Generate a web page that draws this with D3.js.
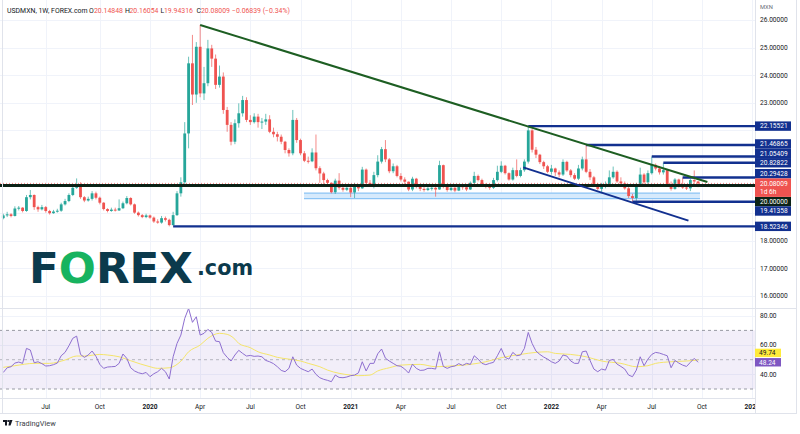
<!DOCTYPE html>
<html lang="en">
<head>
<meta charset="utf-8">
<script src="https://cdn.jsdelivr.net/npm/d3@7"></script>
<style>
  body { margin: 0; background: #fff; }
  svg { display: block; font-family: Roboto, "Liberation Sans", sans-serif; }
</style>
</head>
<body>
<div id="chart"></div>
<script>
  // ---- data (weekly USDMXN) ----
  const firstWeek = Date.UTC(2019, 3, 15); // Monday of first bar
  const firstOpen = 18.82;

  const closes = [
    18.92, 18.96, 18.90, 19.17, 19.20, 19.08, 19.58, 19.66, 19.22, 19.14,
    19.22, 19.08, 19.00, 19.06, 19.09, 19.32, 19.44, 19.66, 19.92, 20.05,
    19.58, 19.46, 19.52, 19.72, 19.56, 19.38, 19.15, 19.08, 19.13, 19.10,
    19.18, 19.36, 19.55, 19.32, 19.02, 18.93, 18.86, 18.92, 18.84, 18.70,
    18.66, 18.82, 18.76, 18.57, 18.93, 19.72, 20.12, 21.89, 24.43, 23.30,
    25.03, 23.34, 23.71, 24.97, 24.60, 23.65, 23.95, 22.74, 22.20, 21.59,
    22.26, 22.62, 23.10, 22.38, 22.30, 22.50, 22.30, 22.32, 22.40, 21.95,
    21.86, 21.77, 21.59, 21.29, 21.17, 22.38, 21.65, 21.17, 20.90, 20.88,
    21.20, 20.63, 20.44, 20.20, 20.10, 19.76, 20.18, 19.92, 19.85, 19.92,
    19.75, 19.98, 19.90, 20.58, 20.10, 20.00, 20.38, 20.87, 21.32, 20.95,
    20.52, 20.70, 20.35, 20.22, 20.14, 19.86, 20.25, 19.95, 19.88, 19.84,
    19.90, 19.92, 19.86, 20.74, 19.95, 19.84, 19.92, 19.82, 19.98, 19.94,
    19.86, 20.10, 20.35, 20.20, 20.04, 19.96, 19.92, 20.20, 20.50, 20.72,
    20.45, 20.22, 20.56, 20.35, 20.56, 20.87, 22.00, 21.30, 21.12, 20.85,
    20.70, 20.50, 20.62, 20.48, 20.40, 20.86, 20.55, 20.38, 20.25, 20.62,
    20.95, 20.50, 20.30, 20.05, 19.88, 19.95, 20.05, 20.30, 20.50, 20.15,
    20.08, 19.90, 19.62, 19.55, 20.02, 20.40, 20.12, 20.45, 20.75, 20.62,
    20.48, 20.56, 20.05, 19.88, 20.22, 19.98, 19.93, 19.90, 20.20, 20.14848,
    20.08009
  ];
  const highs = [
    18.98, 19.05, 19.00, 19.25, 19.26, 19.22, 19.66, 19.84, 19.68, 19.27,
    19.30, 19.26, 19.12, 19.12, 19.16, 19.38, 19.52, 19.72, 19.98, 20.26,
    20.12, 19.62, 19.60, 19.80, 19.78, 19.60, 19.40, 19.18, 19.20, 19.20,
    19.50, 19.42, 19.62, 19.58, 19.35, 19.06, 18.97, 18.98, 18.95, 18.88,
    18.78, 18.90, 18.88, 18.80, 19.05, 19.80, 20.30, 22.30, 24.67, 25.46,
    25.20, 25.82, 24.30, 25.28, 25.10, 24.75, 24.35, 24.10, 22.85, 22.30,
    22.40, 22.98, 23.25, 23.20, 22.55, 22.62, 22.60, 22.45, 22.60, 22.55,
    22.10, 21.95, 21.85, 21.62, 21.35, 22.74, 22.45, 21.70, 21.25, 21.05,
    21.35, 21.85, 20.70, 20.50, 20.25, 20.12, 20.25, 20.45, 20.05, 20.05,
    20.00, 20.10, 20.05, 20.68, 20.62, 20.20, 20.50, 21.10, 21.40, 21.65,
    21.00, 20.80, 20.75, 20.45, 20.30, 20.15, 20.32, 20.28, 20.00, 19.95,
    19.98, 20.05, 20.00, 20.90, 20.76, 20.02, 20.00, 19.95, 20.05, 20.05,
    20.00, 20.15, 20.50, 20.40, 20.25, 20.08, 20.02, 20.28, 20.72, 20.88,
    20.75, 20.48, 20.65, 20.95, 20.65, 20.95, 22.15521, 22.05, 21.40, 21.15,
    20.90, 20.75, 20.75, 20.65, 20.55, 20.95, 20.90, 20.60, 20.45, 20.75,
    21.05, 21.46865, 20.60, 20.35, 20.10, 20.10, 20.15, 20.55, 20.69, 20.55,
    20.30, 20.15, 19.95, 19.70, 20.10, 20.65, 20.45, 20.55, 21.05409, 20.80,
    20.70, 20.82822, 20.60, 20.15, 20.27, 20.25, 20.29428, 20.02, 20.25, 20.55,
    20.16054
  ];
  const lows = [
    18.78, 18.86, 18.85, 18.88, 19.10, 19.03, 19.05, 19.50, 19.12, 19.05,
    19.10, 19.02, 18.95, 18.98, 19.02, 19.05, 19.28, 19.40, 19.62, 19.88,
    19.52, 19.40, 19.42, 19.46, 19.50, 19.32, 19.10, 19.03, 19.05, 19.06,
    19.08, 19.15, 19.32, 19.28, 18.98, 18.88, 18.82, 18.82, 18.80, 18.65,
    18.62, 18.62, 18.70, 18.52346, 18.55, 18.90, 19.60, 20.05, 21.35, 22.92,
    23.00, 23.20, 23.10, 23.60, 24.30, 23.50, 23.55, 22.60, 21.95, 21.46,
    21.50, 22.10, 22.50, 22.30, 22.20, 22.25, 22.10, 22.05, 22.20, 21.90,
    21.75, 21.60, 21.50, 21.17, 21.05, 21.10, 21.55, 21.10, 20.85, 20.80,
    20.85, 20.55, 20.10, 20.05, 19.98, 19.72, 19.70, 19.85, 19.78, 19.80,
    19.58, 19.55, 19.80, 19.88, 20.02, 19.95, 19.90, 20.30, 20.80, 20.85,
    20.45, 20.45, 20.30, 20.15, 20.05, 19.80, 19.80, 19.90, 19.80, 19.78,
    19.80, 19.82, 19.60, 19.85, 19.90, 19.78, 19.80, 19.76, 19.80, 19.85,
    19.80, 19.84, 20.05, 20.15, 19.98, 19.90, 19.85, 19.88, 20.15, 20.45,
    20.40, 20.18, 20.18, 20.30, 20.30, 20.50, 20.80, 21.20, 21.00, 20.78,
    20.60, 20.45, 20.40, 20.35, 20.30, 20.35, 20.50, 20.30, 20.20, 20.20,
    20.55, 20.45, 20.20, 19.95, 19.83, 19.73, 19.90, 19.95, 20.25, 20.10,
    19.98, 19.85, 19.55, 19.41358, 19.45, 19.95, 19.95, 20.05, 20.40, 20.55,
    20.40, 20.40, 20.00, 19.82, 19.85, 19.93, 19.88, 19.84, 19.80, 20.05,
    19.94316
  ];

  const rsiValues = [
    41.3, 44.5, 45.2, 47.7, 48.4, 47.5, 57.7, 56.6, 47.9, 48.6,
    47.3, 45.7, 45.9, 46.6, 47.7, 52.7, 55.0, 59.5, 64.6, 66.1,
    53.6, 51.6, 53.2, 55.9, 52.3, 46.8, 44.1, 45.0, 45.2, 45.4,
    47.5, 53.9, 50.9, 44.5, 42.3, 41.1, 40.4, 41.3, 38.4, 40.4,
    41.8, 44.1, 41.8, 36.8, 52.0, 61.1, 66.8, 78.2, 85.0, 75.5,
    79.3, 66.8, 68.0, 70.7, 68.6, 62.7, 62.3, 54.8, 51.6, 49.1,
    53.2, 56.4, 54.3, 52.5, 52.9, 52.3, 52.5, 52.0, 49.5, 48.6,
    47.3, 45.2, 42.7, 41.8, 44.1, 52.0, 46.3, 44.1, 42.9, 41.8,
    43.6, 40.0, 37.7, 36.6, 35.9, 35.0, 39.5, 37.9, 37.7, 38.2,
    39.1, 39.5, 41.0, 48.6, 42.3, 47.5, 47.5, 54.0, 57.3, 51.0,
    49.1, 47.5, 45.9, 45.5, 43.6, 40.9, 47.0, 44.1, 42.7, 42.9,
    44.1, 44.1, 43.6, 55.4, 45.4, 44.1, 45.2, 45.7, 47.3, 46.1,
    47.5, 46.8, 52.7, 50.4, 47.5, 46.6, 47.5, 48.2, 52.7, 57.7,
    51.6, 50.4, 55.0, 52.7, 53.2, 57.7, 68.6, 61.1, 55.9, 53.6,
    51.8, 50.4, 48.6, 47.5, 49.1, 53.2, 52.5, 49.1, 47.5, 47.5,
    55.4, 55.9, 49.5, 43.6, 41.8, 43.6, 42.9, 49.5, 50.2, 47.0,
    45.4, 43.6, 39.5, 38.4, 42.9, 52.0, 45.9, 50.4, 53.6, 55.0,
    54.5, 53.6, 52.7, 44.5, 49.5, 47.7, 46.3, 45.4, 48.2, 50.9,
    48.24
  ];

  // RSI moving average, read at sampled weeks
  const rsiMaWeeks = [0, 3, 8, 12, 16, 19, 21, 25, 27, 30, 33, 38, 40, 43, 46, 48, 51, 53, 56, 58,
    60, 61, 64, 66, 69, 71, 74, 77, 79, 82, 84, 87, 90, 92, 95, 97, 100, 103, 108, 112,
    117, 121, 125, 129, 134, 138, 141, 143, 147, 151, 155, 160, 164, 167, 169, 173, 177, 180];
  const rsiMaValues = [44.8, 45.9, 47.5, 47.5, 49.8, 52.5, 52.5, 53.6, 53.2, 52.0, 49.3, 45.2, 44.1, 44.5, 49.0, 55.4, 60.0, 64.6, 68.0, 67.3,
    64.0, 61.1, 58.2, 55.4, 53.2, 51.6, 50.4, 49.1, 47.5, 45.2, 42.9, 40.7, 39.5, 39.1, 39.5, 42.3, 44.5, 46.3, 46.8, 45.2,
    45.9, 46.8, 48.6, 51.4, 53.6, 55.0, 55.4, 54.3, 53.6, 52.0, 49.1, 47.5, 45.2, 45.9, 47.5, 48.6, 49.1, 49.74];

  const priceTicks = [16, 17, 18, 19, 20, 21, 22, 23, 24, 25, 26];
  const rsiTicks = [80, 60, 40];
  const timeTickDates = ["2019-07-01", "2019-10-07", "2020-01-06", "2020-04-06", "2020-07-06", "2020-10-05",
    "2021-01-04", "2021-04-05", "2021-07-05", "2021-10-04", "2022-01-03", "2022-04-04", "2022-07-04",
    "2022-10-03", "2023-01-02"];
  const timeTickLabels = ["Jul", "Oct", "2020", "Apr", "Jul", "Oct", "2021", "Apr", "Jul", "Oct", "2022",
    "Apr", "Jul", "Oct", "2023"];

  // horizontal levels drawn on the chart (price, first week)
  const levelPrices = [22.15521, 21.46865, 21.05409, 20.82822, 20.29428, 20.00000, 19.41358, 18.52346];
  const levelStartWeeks = [136, 151, 168, 171, 176, -2, 163, 44];

  // trend lines [week, price]
  const downTrend = [[51, 25.82], [182.4, 20.13]];
  const channelLow = [[134.7, 20.66], [177.5, 18.73]];
  const supportZone = { weeks: [77.9, 180.5], prices: [19.53, 19.73] };

  const lastPrice = 20.08009;
  const lastRsi = 48.24, lastRsiMa = 49.74;

  // ---- layout ----
  const W = 800, H = 434;
  const plotRight = 755;
  const mainBottom = 308, rsiBottom = 398, chartBottom = 413;
  const green = "#26a69a", red = "#ef5350";
  const blue = "#12308f", black = "#0b2216";
  const textColor = "#131722";
  const fs = 6.6;

  const weekDate = w => new Date(firstWeek + w * 7 * 864e5);
  const dates = closes.map((_, i) => weekDate(i));
  const candles = closes.map((c, i) => ({
    date: dates[i], o: i ? closes[i - 1] : firstOpen, h: highs[i], l: lows[i], c
  }));

  const x = d3.scaleUtc().domain([dates[0], dates[dates.length - 1]]).range([3.3, 698.1]);
  const y = d3.scaleLinear().domain([16, 26]).range([296, 20]);
  const yr = d3.scaleLinear().domain([30, 70]).range([389, 330.4]);
  const xw = w => x(weekDate(w));

  const svg = d3.select("#chart").append("svg")
    .attr("width", W).attr("height", H);
  svg.append("rect").attr("width", W).attr("height", H).attr("fill", "#fff");

  const defs = svg.append("defs");
  defs.append("clipPath").attr("id", "clipMain").append("rect")
    .attr("x", 0).attr("y", 0).attr("width", plotRight).attr("height", mainBottom);
  defs.append("clipPath").attr("id", "clipRsi").append("rect")
    .attr("x", 0).attr("y", mainBottom).attr("width", plotRight).attr("height", rsiBottom - mainBottom);
  defs.append("clipPath").attr("id", "clipTime").append("rect")
    .attr("x", 0).attr("y", rsiBottom).attr("width", plotRight).attr("height", chartBottom - rsiBottom);

  // grid
  const grid = svg.append("g").attr("stroke", "#f0f3fa").attr("stroke-width", 1);
  grid.selectAll(".gx").data(timeTickDates).join("line")
    .attr("x1", d => Math.round(x(new Date(d))) + 0.5).attr("x2", d => Math.round(x(new Date(d))) + 0.5)
    .attr("y1", 0).attr("y2", rsiBottom);
  grid.selectAll(".gy").data(priceTicks).join("line")
    .attr("x1", 0).attr("x2", plotRight)
    .attr("y1", d => Math.round(y(d)) + 0.5).attr("y2", d => Math.round(y(d)) + 0.5);
  grid.selectAll(".gr").data(rsiTicks).join("line")
    .attr("x1", 0).attr("x2", plotRight)
    .attr("y1", d => Math.round(yr(d)) + 0.5).attr("y2", d => Math.round(yr(d)) + 0.5);

  // FOREX.com logo
  const logo = svg.append("g").attr("font-family", "'DejaVu Sans', sans-serif").attr("font-weight", 700);
  logo.append("text").attr("x", 29).attr("y", 283).attr("font-size", 42)
    .attr("textLength", 164).attr("lengthAdjust", "spacingAndGlyphs")
    .attr("fill", "#0b3a4c")
    .call(t => {
      t.append("tspan").text("F");
      t.append("tspan").attr("fill", "#17b35f").text("O");
      t.append("tspan").text("REX");
    });
  logo.append("text").attr("x", 197).attr("y", 275).attr("font-size", 22)
    .attr("textLength", 56).attr("lengthAdjust", "spacingAndGlyphs")
    .attr("fill", "#0b3a4c").text(".com");

  // ---- main pane ----
  const main = svg.append("g").attr("clip-path", "url(#clipMain)");

  // support zone
  main.append("rect")
    .attr("x", xw(supportZone.weeks[0])).attr("width", xw(supportZone.weeks[1]) - xw(supportZone.weeks[0]))
    .attr("y", y(supportZone.prices[1])).attr("height", y(supportZone.prices[0]) - y(supportZone.prices[1]))
    .attr("fill", "#d6eafc");
  main.selectAll(".zone").data(supportZone.prices).join("line")
    .attr("x1", xw(supportZone.weeks[0])).attr("x2", xw(supportZone.weeks[1]))
    .attr("y1", d => y(d)).attr("y2", d => y(d))
    .attr("stroke", "#8cc4f5").attr("stroke-width", 1.2);

  // candles
  const cg = main.append("g").selectAll("g").data(candles).join("g");
  cg.append("line")
    .attr("x1", d => x(d.date)).attr("x2", d => x(d.date))
    .attr("y1", d => y(d.h)).attr("y2", d => y(d.l))
    .attr("stroke", d => d.c >= d.o ? green : red).attr("stroke-width", 0.9).attr("opacity", 0.75);
  cg.append("rect")
    .attr("x", d => x(d.date) - 1.4).attr("width", 2.8)
    .attr("y", d => y(Math.max(d.o, d.c)))
    .attr("height", d => Math.max(1, Math.abs(y(d.o) - y(d.c))))
    .attr("fill", d => d.c >= d.o ? green : red);

  // last price dotted line
  main.append("line").attr("x1", 0).attr("x2", plotRight)
    .attr("y1", y(lastPrice)).attr("y2", y(lastPrice))
    .attr("stroke", red).attr("stroke-dasharray", "1,2").attr("opacity", 0.7);

  // horizontal levels
  main.selectAll(".lvl").data(levelPrices).join("line")
    .attr("x1", (d, i) => xw(levelStartWeeks[i])).attr("x2", plotRight)
    .attr("y1", d => y(d)).attr("y2", d => y(d))
    .attr("stroke", d => d === 20 ? black : blue)
    .attr("stroke-width", d => d === 20 ? 3 : 2.4);

  // trend lines
  const line = d3.line().x(d => xw(d[0])).y(d => y(d[1]));
  main.append("path").attr("d", line(downTrend)).attr("stroke", "#1d5e22").attr("stroke-width", 2).attr("fill", "none");
  main.append("path").attr("d", line(channelLow)).attr("stroke", blue).attr("stroke-width", 2).attr("fill", "none");

  // ---- RSI pane ----
  const rsi = svg.append("g").attr("clip-path", "url(#clipRsi)");
  rsi.append("rect").attr("x", 0).attr("width", plotRight)
    .attr("y", yr(70)).attr("height", yr(30) - yr(70)).attr("fill", "#7e57c2").attr("opacity", 0.1);
  rsi.selectAll(".band").data([70, 50, 30]).join("line")
    .attr("x1", 0).attr("x2", plotRight)
    .attr("y1", d => yr(d)).attr("y2", d => yr(d))
    .attr("stroke", "#8f929b").attr("stroke-dasharray", "3,3")
    .attr("opacity", d => d === 50 ? 0.6 : 0.9);
  rsi.append("path")
    .attr("d", d3.line().x((d, i) => xw(rsiMaWeeks[i])).y(d => yr(d)).curve(d3.curveMonotoneX)(rsiMaValues))
    .attr("fill", "none").attr("stroke", "#f5e56b").attr("stroke-width", 1);
  rsi.append("path")
    .attr("d", d3.line().x((d, i) => x(dates[i])).y(d => yr(d))(rsiValues))
    .attr("fill", "none").attr("stroke", "#8e6fd0").attr("stroke-width", 1);

  // ---- frame ----
  const frame = svg.append("g").attr("stroke", "#e0e3eb").attr("stroke-width", 1);
  frame.append("line").attr("x1", plotRight + 0.5).attr("x2", plotRight + 0.5).attr("y1", 0).attr("y2", chartBottom);
  frame.append("line").attr("x1", 0).attr("x2", 797).attr("y1", mainBottom + 0.5).attr("y2", mainBottom + 0.5);
  frame.append("line").attr("x1", 0).attr("x2", plotRight).attr("y1", rsiBottom + 0.5).attr("y2", rsiBottom + 0.5);
  frame.append("line").attr("x1", 0).attr("x2", 797).attr("y1", chartBottom + 0.5).attr("y2", chartBottom + 0.5);
  frame.append("line").attr("x1", 2.5).attr("x2", 2.5).attr("y1", 0).attr("y2", chartBottom);
  frame.append("line").attr("x1", 796.5).attr("x2", 796.5).attr("y1", 0).attr("y2", chartBottom);

  // ---- price axis ----
  const axisX = 760;
  const labH = 4.7;
  const curY = y(lastPrice);
  const curTop = curY - 5, curBottom = curY + 13.5;
  const levels = levelPrices.map(p => ({ p, y: y(p) }));
  let limit = curTop;
  levels.filter(d => d.y <= curY).sort((a, b) => b.y - a.y).forEach(d => {
    d.ly = Math.min(d.y, limit - labH); limit = d.ly - labH;
  });
  limit = curBottom;
  levels.filter(d => d.y > curY).sort((a, b) => a.y - b.y).forEach(d => {
    d.ly = Math.max(d.y, limit + labH); limit = d.ly + labH;
  });
  // tick labels hidden where a level label covers them
  const busy = levels.map(d => [d.ly - labH, d.ly + labH]).concat([[curTop, curBottom]]);
  const tickFree = p => busy.every(([a, b]) => y(p) + 3.5 < a || y(p) - 3.5 > b);

  const pa = svg.append("g").attr("font-size", fs).attr("fill", textColor);
  pa.selectAll("text").data(priceTicks.filter(tickFree))
    .join("text").attr("x", axisX).attr("y", d => y(d) + 2.3).text(d => d.toFixed(5));
  pa.append("text").attr("x", axisX).attr("y", 8.5).attr("font-size", 5.8).attr("fill", "#6a6d78").text("MXN");

  const lb = svg.append("g").attr("font-size", fs);
  const lbG = lb.selectAll("g").data(levels).join("g");
  lbG.append("rect").attr("x", plotRight).attr("width", 36)
    .attr("y", d => d.ly - labH).attr("height", labH * 2)
    .attr("fill", d => d.p === 20 ? black : blue);
  lbG.append("text").attr("x", axisX).attr("y", d => d.ly + 2.3).attr("fill", "#fff").text(d => d.p.toFixed(5));

  lb.append("rect").attr("x", plotRight).attr("width", 36).attr("y", curTop).attr("height", curBottom - curTop).attr("fill", red);
  lb.append("text").attr("x", axisX).attr("y", curY + 2.3).attr("fill", "#fff").text(lastPrice.toFixed(5));
  lb.append("text").attr("x", axisX).attr("y", curY + 10.5).attr("fill", "#fff").text("1d 6h");

  // ---- RSI axis ----
  const ra = svg.append("g").attr("font-size", fs).attr("fill", textColor);
  ra.selectAll("text").data(rsiTicks).join("text")
    .attr("x", axisX).attr("y", d => yr(d) + 2.3).text(d => d.toFixed(2));
  const purpleY = yr(lastRsi), yellowY = Math.min(yr(lastRsiMa), purpleY - 9.4);
  ra.append("rect").attr("x", plotRight).attr("width", 26).attr("y", yellowY - 4.2).attr("height", 8.4).attr("fill", "#ffeb3b");
  ra.append("text").attr("x", 759).attr("y", yellowY + 2.3).attr("fill", textColor).text(lastRsiMa.toFixed(2));
  ra.append("rect").attr("x", plotRight).attr("width", 26).attr("y", purpleY - 4.2).attr("height", 8.4).attr("fill", "#7e57c2");
  ra.append("text").attr("x", 759).attr("y", purpleY + 2.3).attr("fill", "#fff").text(lastRsi.toFixed(2));

  // ---- time axis ----
  svg.append("g").attr("clip-path", "url(#clipTime)").attr("font-size", fs).attr("fill", textColor)
    .selectAll("text").data(timeTickDates).join("text")
    .attr("x", d => x(new Date(d))).attr("y", 408.5).attr("text-anchor", "middle")
    .attr("font-weight", (d, i) => /^\d/.test(timeTickLabels[i]) ? 700 : 400)
    .text((d, i) => timeTickLabels[i]);

  // ---- header ----
  const hdr = svg.append("g").attr("font-size", fs + 0.3).attr("fill", textColor);
  const hdrParts = [
    [7, "USDMXN, 1W, FOREX.com", textColor], [89, "O", textColor], [94, "20.14848", red],
    [125, "H", textColor], [129.5, "20.16054", red], [160.5, "L", textColor], [164, "19.94316", red],
    [196.5, "C", textColor], [201, "20.08009", red], [232, "\u22120.06839 (\u22120.34%)", red]
  ];
  hdr.selectAll("text").data(hdrParts).join("text")
    .attr("x", d => d[0]).attr("y", 13.3).attr("fill", d => d[2]).text(d => d[1]);

  // ---- TradingView mark ----
  const tv = svg.append("g").attr("fill", "#131722");
  tv.append("rect").attr("x", 3).attr("y", 420).attr("width", 4.5).attr("height", 2);
  tv.append("rect").attr("x", 5).attr("y", 420).attr("width", 2).attr("height", 5.5);
  tv.append("path").attr("d", "M9.5,420 L12.5,420 L10.5,425.5 L8.5,425.5 Z");
  tv.append("circle").attr("cx", 8.6).attr("cy", 421).attr("r", 1);
  tv.append("text").attr("x", 15).attr("y", 425.5).attr("font-size", 7.4).attr("fill", "#3a3d46").text("TradingView");
</script>
</body>
</html>
